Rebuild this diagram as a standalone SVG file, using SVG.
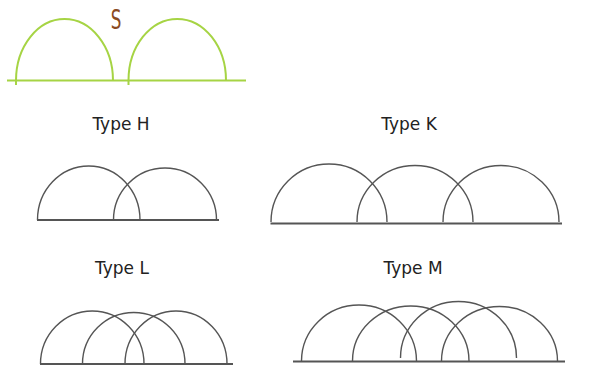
<svg xmlns="http://www.w3.org/2000/svg" width="590" height="386" viewBox="0 0 590 386">
<style>
.g{fill:none;stroke:#a6d444;stroke-width:2}
.a{fill:none;stroke:#555;stroke-width:1.4}
.b{fill:none;stroke:#555;stroke-width:2}
.t{font-family:"DejaVu Sans",sans-serif;font-size:17px;fill:#222}
</style>
<rect width="590" height="386" fill="#fff"/>
<g id="s-diagram">
<path class="g" d="M7 80.5 H246"/>
<path class="g" d="M16 85 V80.5 A48.5 61.5 0 0 1 113 80.5"/>
<path class="g" d="M128.5 85 V80.5 A48.7 61.5 0 0 1 226 80.5"/>
<text x="116" y="29" transform="translate(116 0) scale(0.62 1) translate(-116 0)" text-anchor="middle" style="font-family:'DejaVu Sans',sans-serif;font-size:27px;fill:#8a4a22">S</text>
</g>
<g id="type-h">
<text class="t" x="121" y="130" text-anchor="middle">Type H</text>
<path class="b" d="M37 220 H219"/>
<path class="a" d="M37.5 220 A51.25 54 0 0 1 140 220"/>
<path class="a" d="M113.5 220 A51.5 52 0 0 1 216.5 220"/>
</g>
<g id="type-k">
<text class="t" x="409" y="130" text-anchor="middle">Type K</text>
<path class="b" d="M270.5 223.5 H562"/>
<path class="a" d="M271 222 A58 58 0 0 1 387 222"/>
<path class="a" d="M357 222 A58 56.5 0 0 1 473 222"/>
<path class="a" d="M443 222 A58 56.5 0 0 1 559 222"/>
</g>
<g id="type-l">
<text class="t" x="122" y="274" text-anchor="middle">Type L</text>
<path class="b" d="M40 364 H233"/>
<path class="a" d="M40.5 364 A51.75 53 0 0 1 144 364"/>
<path class="a" d="M82.5 364 A51.25 51.5 0 0 1 185 364"/>
<path class="a" d="M125 364 A51 53 0 0 1 227 364"/>
</g>
<g id="type-m">
<text class="t" x="413" y="274" text-anchor="middle">Type M</text>
<path class="b" d="M293 361.5 H565"/>
<path class="a" d="M301.5 361 A57.5 56 0 0 1 416.5 361"/>
<path class="a" d="M352.5 361 A58.25 55 0 0 1 469 361"/>
<path class="a" d="M400.5 358 A58 56.5 0 0 1 516.5 358"/>
<path class="a" d="M441.5 361 A58 54.5 0 0 1 557.5 361"/>
</g>
</svg>
